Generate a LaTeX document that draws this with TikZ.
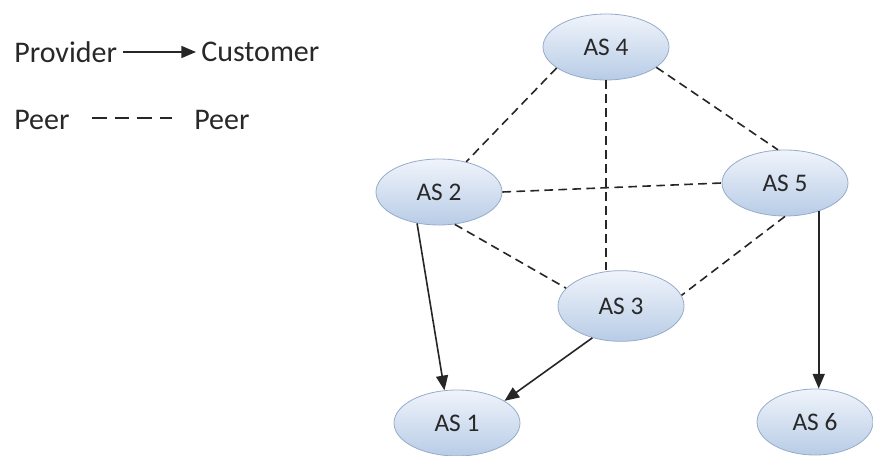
\documentclass[tikz,border=0pt]{standalone}
\usepackage{fontspec}
\setmainfont{Carlito}
\usetikzlibrary{shapes.geometric,arrows.meta}
\definecolor{asTop}{RGB}{240,244,251}
\definecolor{asBot}{RGB}{184,204,230}
\definecolor{asLine}{RGB}{150,172,202}
\definecolor{txt}{RGB}{40,40,40}
\tikzset{
  asnode/.style={ellipse, draw=asLine, line width=0.6pt, top color=asTop, bottom color=asBot,
    minimum width=94.5pt, minimum height=49.5pt, inner sep=0pt, text=txt, font=\fontsize{19}{22}\selectfont},
  peerline/.style={draw=black!85, line width=1.2pt, dash pattern=on 6.5pt off 4pt},
  provline/.style={draw=black!85, line width=1.2pt, -{Triangle[length=11pt,width=9pt]}},
  legtext/.style={inner sep=0pt, anchor=west, text=txt, font=\fontsize{22.5}{26}\selectfont}
}
\begin{document}
\begin{tikzpicture}[x=0.75pt,y=-0.75pt]
\useasboundingbox (0,0) rectangle (873,456);
% legend
\node[legtext] (prov) at (14,52) {Provider};
\node[legtext] (cust) at (201,52) {Customer};
\coordinate (pa) at (123,52);
\coordinate (pz) at (196,52);
\draw[provline] (pa) -- (pz);
\node[legtext] (peerA) at (14,120) {Peer};
\node[legtext] (peerB) at (194,120) {Peer};
\coordinate (pb) at (92,118);
\coordinate (pc) at (172,118);
\draw[draw=black!85, line width=1.2pt, dash pattern=on 11pt off 6pt] (pb) -- (pc);
% AS nodes
\node[asnode] (as4) at (606,47) {AS 4};
\node[asnode] (as2) at (439,192) {AS 2};
\node[asnode] (as5) at (785,183) {AS 5};
\node[asnode, minimum height=53pt] (as3) at (621,306) {AS 3};
\node[asnode] (as1) at (457,423) {AS 1};
\node[asnode, minimum width=87pt] (as6) at (815,422) {AS 6};
% peer links
\draw[peerline] (as4.203) -- (as2.48);
\draw[peerline] (as4.338) -- (as5.102);
\draw[peerline] (as4.south) -- (as3.north -| as4.south);
\draw[peerline] (as2.east) -- (as5.west);
\draw[peerline] (as2.296) -- (as3.162);
\draw[peerline] (as5.south) -- (as3.10);
% provider links
\draw[provline] (as2.235) -- (as1.111);
\draw[provline] (as3.228) -- (as1.25);
\draw[provline] (as5.320) -- (as5.320 |- as6.north);
\end{tikzpicture}
\end{document}
